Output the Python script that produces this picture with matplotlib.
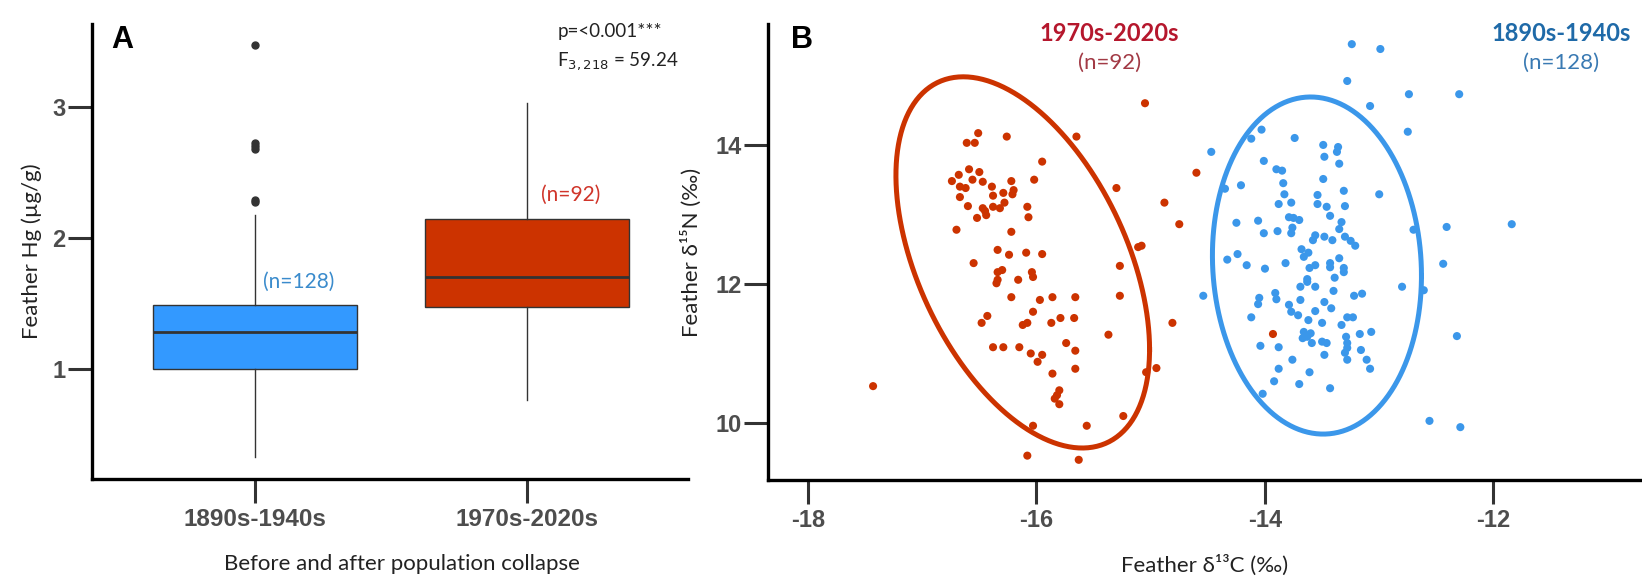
import numpy as np
import matplotlib
matplotlib.use('Agg')
import matplotlib.pyplot as plt

# ---- panel A: feather Hg boxplot summary ----
groups = ['1890s-1940s', '1970s-2020s']
box_q1 = [1.00, 1.47]
box_med = [1.28, 1.70]
box_q3 = [1.49, 2.14]
whisk_lo = [0.33, 0.76]
whisk_hi = [2.17, 3.03]
outliers_old = [2.27, 2.29, 2.68, 2.70, 2.72, 3.47]
outliers_new = []
n_labels = ['(n=128)', '(n=92)']
n_label_y = [1.66, 2.33]

# ---- panel B: isotopes ----
red_x = [-16.51, -16.54, -16.61, -16.26, -15.95, -16.59, -16.50, -16.68, -16.74, -16.67,
         -16.67, -16.47, -16.39, -16.38, -16.22, -16.02, -16.29, -16.21, -16.60, -16.47,
         -16.44, -16.38, -16.32, -16.28, -16.08, -16.07, -16.70, -16.22, -16.34, -16.24,
         -16.09, -15.95, -16.55, -16.34, -16.34, -16.35, -16.16, -16.04, -16.03, -16.22,
         -15.97, -15.86, -15.65, -15.30, -15.11, -15.27, -15.27, -15.05, -14.60, -14.88,
         -14.75, -15.08, -17.43, -16.48, -16.43, -15.66, -16.03, -16.12, -16.08, -15.87,
         -15.79, -15.67, -16.38, -16.29, -16.15, -15.95, -15.99, -15.74, -15.66, -15.37,
         -15.66, -15.86, -15.80, -15.84, -15.80, -16.03, -16.08, -15.63, -15.56, -15.24,
         -14.81, -14.95, -15.04, -13.93,
         -16.56, -16.45, -16.62, -16.30, -16.05, -15.82, -16.20, -16.52]
red_y = [14.17, 14.03, 14.03, 14.12, 13.76, 13.65, 13.61, 13.57, 13.48, 13.40,
         13.25, 13.47, 13.40, 13.27, 13.48, 13.50, 13.31, 13.29, 13.12, 13.09,
         12.99, 13.11, 13.09, 13.17, 13.11, 12.96, 12.78, 12.75, 12.49, 12.42,
         12.45, 12.43, 12.30, 12.17, 12.06, 12.01, 12.06, 12.17, 12.10, 11.81,
         11.77, 11.81, 14.12, 13.38, 12.53, 12.26, 11.83, 14.60, 13.60, 13.17,
         12.86, 12.55, 10.53, 11.44, 11.54, 11.81, 11.60, 11.41, 11.44, 11.44,
         11.51, 11.51, 11.09, 11.09, 11.09, 10.98, 10.88, 11.15, 11.04, 11.27,
         10.78, 10.71, 10.47, 10.35, 10.27, 9.96, 9.53, 9.47, 9.96, 10.10,
         11.44, 10.79, 10.73, 11.28,
         13.50, 13.05, 13.38, 12.20, 11.00, 10.40, 13.35, 12.95]

blue_x = [-13.24, -12.99, -13.28, -12.74, -12.30, -13.08, -12.75, -14.03, -14.12, -14.47,
          -13.74, -13.49, -13.36, -13.37, -13.48, -13.35, -14.01, -13.90, -13.85, -13.84,
          -13.49, -14.21, -14.35, -13.31, -13.00, -13.83, -13.54, -13.88, -13.77, -13.54,
          -13.46, -13.30, -13.79, -13.75, -13.70, -13.43, -13.33, -13.35, -14.25, -14.06,
          -14.01, -13.89, -13.76, -13.77, -13.56, -13.58, -13.48, -13.41, -13.30, -13.25,
          -13.21, -12.70, -12.41, -11.84, -13.68, -13.66, -13.35, -14.33, -14.24, -14.16,
          -14.00, -13.82, -13.61, -13.56, -13.43, -13.43, -13.31, -13.31, -13.63, -13.63,
          -13.39, -13.69, -13.56, -12.44, -12.80, -12.61, -14.54, -14.05, -13.91, -13.22,
          -13.15, -13.90, -14.06, -13.79, -13.77, -13.69, -14.12, -13.71, -13.62, -13.56,
          -13.48, -13.42, -13.50, -13.33, -13.28, -13.23, -13.07, -13.17, -13.66, -13.60,
          -13.67, -13.63, -13.59, -13.50, -13.46, -13.29, -13.28, -13.28, -13.30, -13.28,
          -14.04, -13.88, -13.48, -13.16, -13.11, -13.76, -13.08, -13.88, -13.61, -13.92,
          -13.70, -13.43, -14.02, -12.32, -12.56, -12.29,
          -13.62, -13.40]
blue_y = [15.45, 15.38, 14.92, 14.73, 14.73, 14.56, 14.19, 14.22, 14.09, 13.90,
          14.10, 14.00, 13.97, 13.90, 13.83, 13.73, 13.77, 13.65, 13.63, 13.45,
          13.51, 13.42, 13.37, 13.34, 13.29, 13.29, 13.28, 13.15, 13.17, 13.15,
          13.11, 13.12, 12.96, 12.95, 12.92, 12.98, 12.89, 12.79, 12.88, 12.91,
          12.73, 12.76, 12.81, 12.73, 12.70, 12.63, 12.68, 12.63, 12.68, 12.62,
          12.55, 12.78, 12.82, 12.86, 12.50, 12.39, 12.37, 12.35, 12.43, 12.27,
          12.22, 12.30, 12.23, 12.27, 12.30, 12.24, 12.23, 12.17, 12.07, 12.03,
          12.09, 11.96, 11.96, 12.29, 11.96, 11.91, 11.83, 11.80, 11.87, 11.83,
          11.86, 11.78, 11.71, 11.70, 11.60, 11.77, 11.52, 11.55, 11.48, 11.61,
          11.74, 11.65, 11.44, 11.41, 11.52, 11.52, 11.31, 11.28, 11.31, 11.29,
          11.22, 11.24, 11.15, 11.17, 11.15, 11.24, 11.15, 11.08, 11.01, 10.91,
          11.11, 11.09, 10.98, 11.05, 10.91, 10.91, 10.78, 10.78, 10.73, 10.60,
          10.56, 10.50, 10.42, 11.25, 10.03, 9.94,
          12.45, 11.90]

# ellipse centre and shape matrix
ell_red_center = [-16.12, 12.31]
ell_red_shape = [[1.232, -1.39], [-1.39, 7.13]]
ell_blue_center = [-13.545, 12.265]
ell_blue_shape = [[0.837, -0.133], [-0.133, 5.88]]

RED = '#cc3300'
BLUE = '#3399ff'
BLUE_PT = '#3b97ea'
TICKGREY = '#4d4d4d'
TEXTFONT = ['Lato', 'DejaVu Sans']
BOLDFONT = ['Liberation Sans', 'DejaVu Sans']

fig = plt.figure(figsize=(16.42, 5.78), dpi=100)
axA = fig.add_axes([0.0560, 0.1713, 0.3630, 0.7872])
axB = fig.add_axes([0.4677, 0.1696, 0.5323, 0.7889])


def style_axis(ax, size):
    for s in ['top', 'right']:
        ax.spines[s].set_visible(False)
    for s in ['left', 'bottom']:
        ax.spines[s].set_linewidth(2.4)
        ax.spines[s].set_color('black')
    ax.tick_params(axis='both', length=17, width=2.2, color='#333333',
                   labelcolor=TICKGREY, labelsize=size)
    ax.tick_params(axis='y', pad=2)
    ax.tick_params(axis='x', pad=4)
    for lab in ax.get_xticklabels() + ax.get_yticklabels():
        lab.set_fontfamily(BOLDFONT)
        lab.set_fontweight('bold')


# ---- panel A ----
stats = []
fliers = [outliers_old, outliers_new]
for i in range(len(groups)):
    stats.append(dict(q1=box_q1[i], med=box_med[i], q3=box_q3[i],
                      whislo=whisk_lo[i], whishi=whisk_hi[i], fliers=fliers[i]))
bp = axA.bxp(stats, positions=[0, 1], widths=0.75, patch_artist=True, showcaps=False,
             boxprops=dict(edgecolor='#333333', linewidth=1.0),
             medianprops=dict(color='#333333', linewidth=2.0),
             whiskerprops=dict(color='#333333', linewidth=1.0),
             flierprops=dict(marker='o', markerfacecolor='#333333', markeredgecolor='#333333',
                             markersize=5))
for patch, col in zip(bp['boxes'], [BLUE, RED]):
    patch.set_facecolor(col)

axA.set_xlim(-0.60, 1.59)
axA.set_ylim(0.16, 3.63)
axA.set_yticks([1, 2, 3])
axA.set_xticks([0, 1])
axA.set_xticklabels(groups)
style_axis(axA, 17)
axA.tick_params(axis='x', labelsize=17.5)

axA.text(0.03, n_label_y[0], n_labels[0], color='#3a8bcc', fontsize=15,
         family=TEXTFONT, va='center', ha='left')
axA.text(1.05, n_label_y[1], n_labels[1], color='#d0352a', fontsize=15,
         family=TEXTFONT, va='center', ha='left')
axA.text(1.11, 3.57, 'p=<0.001***', fontsize=13.5, family=TEXTFONT, va='center', ha='left',
         color='#222222')
axA.text(1.11, 3.35, r'F$_{3,218}$ = 59.24', fontsize=13.5, family=TEXTFONT, va='center',
         ha='left', color='#222222')
axA.text(-0.53, 3.62, 'A', fontsize=22, fontweight='bold', family=BOLDFONT, va='top')

axA.set_xlabel('Before and after population collapse', fontsize=16, family=TEXTFONT,
               color='#222222')
axA.xaxis.set_label_coords(0.52, -0.165)
axA.set_ylabel('Feather Hg (µg/g)', fontsize=16, family=TEXTFONT, color='#222222')
axA.yaxis.set_label_coords(-0.084, 0.5)

# ---- panel B ----
axB.scatter(red_x, red_y, s=34, color=RED, edgecolors='none', zorder=3)
axB.scatter(blue_x, blue_y, s=34, color=BLUE_PT, edgecolors='none', zorder=3)

t = np.linspace(0, 2 * np.pi, 300)
circle = np.vstack([np.cos(t), np.sin(t)])
for cen, shp, col in [(ell_red_center, ell_red_shape, RED),
                      (ell_blue_center, ell_blue_shape, BLUE_PT)]:
    L = np.linalg.cholesky(np.array(shp))
    pts = np.array(cen)[:, None] + L @ circle
    axB.plot(pts[0], pts[1], color=col, linewidth=3.6, zorder=4)

axB.set_xlim(-18.35, -10.70)
axB.set_ylim(9.18, 15.74)
axB.set_xticks([-18, -16, -14, -12])
axB.set_yticks([10, 12, 14])
axB.set_xticklabels(['-18', '-16', '-14', '-12'])
style_axis(axB, 17)

axB.text(-15.36, 15.61, '1970s-2020s', color='#b5172d', fontsize=17, fontweight='bold',
         family=TEXTFONT, ha='center', va='center')
axB.text(-15.36, 15.18, '(n=92)', color='#a23a45', fontsize=16, family=TEXTFONT,
         ha='center', va='center')
axB.text(-11.41, 15.61, '1890s-1940s', color='#1f6aa8', fontsize=17, fontweight='bold',
         family=TEXTFONT, ha='center', va='center')
axB.text(-11.41, 15.18, '(n=128)', color='#3a7ab3', fontsize=16, family=TEXTFONT,
         ha='center', va='center')
axB.text(-18.15, 15.73, 'B', fontsize=22, fontweight='bold', family=BOLDFONT, va='top')

axB.set_xlabel('Feather δ¹³C (‰)', fontsize=16, family=TEXTFONT, color='#222222')
axB.xaxis.set_label_coords(0.5, -0.165)
axB.set_ylabel('Feather δ¹⁵N (‰)', fontsize=16, family=TEXTFONT, color='#222222')
axB.yaxis.set_label_coords(-0.0755, 0.5)

fig.savefig('out.png', dpi=100, facecolor='white')
